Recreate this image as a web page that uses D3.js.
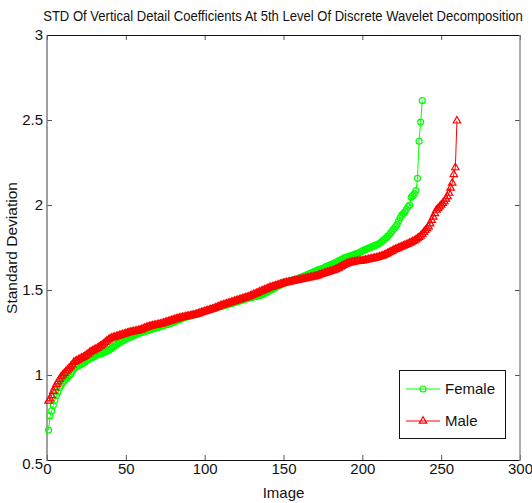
<!DOCTYPE html>
<html>
<head>
<meta charset="utf-8">
<script src="https://cdn.jsdelivr.net/npm/d3@7"></script>
<style>
  html, body { margin: 0; padding: 0; background: #fff; }
  svg { display: block; font-family: "Liberation Sans", Arial, sans-serif; }
</style>
</head>
<body>
<svg id="chart" width="532" height="503"></svg>
<script>
// Sorted per-image standard deviations of the level-5 vertical detail coefficients
const female = [
  0.676, 0.76, 0.79, 0.82, 0.85, 0.88, 0.90, 0.925, 0.94, 0.955,
  0.965, 0.975, 0.985, 0.995, 1.005, 1.02, 1.035, 1.045, 1.05, 1.055,
  1.06, 1.065, 1.07, 1.075, 1.085, 1.09, 1.095, 1.10, 1.105, 1.11,
  1.115, 1.12, 1.122, 1.125, 1.128, 1.132, 1.136, 1.14, 1.146, 1.152,
  1.158, 1.165, 1.172, 1.178, 1.185, 1.19, 1.196, 1.202, 1.208, 1.212,
  1.216, 1.22, 1.224, 1.228, 1.232, 1.236, 1.24, 1.244, 1.247, 1.25,
  1.253, 1.256, 1.259, 1.262, 1.265, 1.268, 1.271, 1.274, 1.277, 1.279,
  1.282, 1.285, 1.288, 1.291, 1.294, 1.297, 1.30, 1.303, 1.306, 1.31,
  1.314, 1.318, 1.322, 1.326, 1.33, 1.334, 1.337, 1.34, 1.343, 1.346,
  1.349, 1.352, 1.355, 1.358, 1.361, 1.364, 1.367, 1.37, 1.373, 1.376,
  1.379, 1.382, 1.385, 1.388, 1.391, 1.394, 1.397, 1.40, 1.402, 1.404,
  1.406, 1.408, 1.41, 1.412, 1.415, 1.418, 1.421, 1.424, 1.427, 1.43,
  1.432, 1.435, 1.438, 1.441, 1.444, 1.447, 1.45, 1.453, 1.455, 1.457,
  1.459, 1.461, 1.463, 1.465, 1.468, 1.471, 1.475, 1.48, 1.485, 1.49,
  1.495, 1.50, 1.505, 1.51, 1.515, 1.52, 1.525, 1.53, 1.535, 1.54,
  1.543, 1.546, 1.549, 1.552, 1.555, 1.558, 1.561, 1.564, 1.567, 1.57,
  1.574, 1.578, 1.582, 1.586, 1.59, 1.594, 1.598, 1.602, 1.606, 1.61,
  1.614, 1.618, 1.622, 1.625, 1.628, 1.632, 1.637, 1.641, 1.645, 1.649,
  1.653, 1.657, 1.661, 1.666, 1.671, 1.676, 1.681, 1.686, 1.69, 1.694,
  1.697, 1.70, 1.703, 1.706, 1.709, 1.712, 1.716, 1.72, 1.725, 1.73,
  1.734, 1.738, 1.742, 1.746, 1.75, 1.754, 1.758, 1.762, 1.766, 1.77,
  1.775, 1.782, 1.79, 1.798, 1.806, 1.815, 1.825, 1.836, 1.848, 1.86,
  1.872, 1.885, 1.905, 1.925, 1.94, 1.95, 1.96, 1.975, 1.99, 2.0,
  2.045, 2.055, 2.065, 2.085, 2.157, 2.375, 2.488, 2.614
];

const male = [
  0.847, 0.86, 0.88, 0.905, 0.925, 0.945, 0.96, 0.975, 0.99, 1.0,
  1.01, 1.02, 1.03, 1.04, 1.05, 1.06, 1.075, 1.08, 1.085, 1.09,
  1.095, 1.10, 1.105, 1.11, 1.117, 1.124, 1.132, 1.138, 1.143, 1.148,
  1.153, 1.158, 1.164, 1.17, 1.177, 1.184, 1.192, 1.2, 1.207, 1.213,
  1.217, 1.22, 1.223, 1.226, 1.229, 1.232, 1.235, 1.238, 1.241, 1.244,
  1.247, 1.25, 1.252, 1.254, 1.256, 1.258, 1.26, 1.262, 1.265, 1.268,
  1.272, 1.276, 1.28, 1.283, 1.286, 1.288, 1.29, 1.292, 1.294, 1.296,
  1.298, 1.30, 1.303, 1.306, 1.309, 1.312, 1.315, 1.318, 1.321, 1.324,
  1.327, 1.33, 1.333, 1.335, 1.337, 1.339, 1.341, 1.343, 1.345, 1.347,
  1.349, 1.351, 1.353, 1.355, 1.358, 1.361, 1.364, 1.367, 1.37, 1.373,
  1.376, 1.379, 1.382, 1.385, 1.388, 1.391, 1.395, 1.399, 1.403, 1.407,
  1.41, 1.413, 1.416, 1.419, 1.422, 1.425, 1.428, 1.431, 1.434, 1.437,
  1.44, 1.443, 1.446, 1.449, 1.452, 1.455, 1.458, 1.461, 1.465, 1.469,
  1.473, 1.477, 1.481, 1.485, 1.489, 1.493, 1.497, 1.501, 1.505, 1.509,
  1.513, 1.516, 1.519, 1.522, 1.525, 1.528, 1.531, 1.534, 1.537, 1.54,
  1.542, 1.544, 1.546, 1.548, 1.55, 1.552, 1.554, 1.556, 1.558, 1.56,
  1.562, 1.564, 1.566, 1.568, 1.57, 1.572, 1.574, 1.576, 1.578, 1.58,
  1.583, 1.586, 1.589, 1.592, 1.595, 1.598, 1.601, 1.604, 1.607, 1.61,
  1.613, 1.616, 1.62, 1.625, 1.63, 1.635, 1.64, 1.645, 1.65, 1.654,
  1.657, 1.66, 1.662, 1.664, 1.666, 1.668, 1.669, 1.67, 1.671, 1.672,
  1.674, 1.676, 1.678, 1.68, 1.682, 1.684, 1.686, 1.688, 1.69, 1.692,
  1.695, 1.698, 1.702, 1.706, 1.71, 1.715, 1.72, 1.725, 1.73, 1.735,
  1.739, 1.743, 1.747, 1.751, 1.755, 1.759, 1.763, 1.767, 1.771, 1.776,
  1.78, 1.785, 1.79, 1.796, 1.803, 1.81, 1.818, 1.828, 1.84, 1.852,
  1.862, 1.872, 1.89, 1.91, 1.93, 1.95, 1.97, 1.98, 1.99, 2.0,
  2.01, 2.02, 2.035, 2.05, 2.07, 2.1, 2.13, 2.18, 2.22, 2.495
];

const xTicks = [0, 50, 100, 150, 200, 250, 300];
const yTicks = [0.5, 1, 1.5, 2, 2.5, 3];
const seriesNames = ["Female", "Male"];
const seriesColors = ["#00ff00", "#ff0000"];

const titleText = "STD Of Vertical Detail Coefficients At 5th Level Of Discrete Wavelet  Decomposition";
const xLabel = "Image";
const yLabel = "Standard Deviation";

const svg = d3.select("#chart");
const box = { left: 47, right: 520, top: 35, bottom: 460 };
const FONT = "'Liberation Sans', Arial, sans-serif";

const x = d3.scaleLinear().domain([0, 300]).range([box.left, box.right]);
const y = d3.scaleLinear().domain([0.5, 3]).range([box.bottom, box.top]);

// Axes with inward ticks; top/right carry ticks only
const fmt = d => String(d);
const tickFont = g => g.selectAll("text")
  .attr("font-family", FONT).attr("font-size", 15).attr("fill", "#111");

const gx = svg.append("g").attr("transform", `translate(0,${box.bottom})`)
  .call(d3.axisBottom(x).tickValues(xTicks).tickFormat(fmt)
    .tickSizeInner(-5).tickSizeOuter(0).tickPadding(3));
gx.call(tickFont);
const gxTop = svg.append("g").attr("transform", `translate(0,${box.top})`)
  .call(d3.axisTop(x).tickValues(xTicks).tickFormat("")
    .tickSizeInner(-5).tickSizeOuter(0));
const gy = svg.append("g").attr("transform", `translate(${box.left},0)`)
  .call(d3.axisLeft(y).tickValues(yTicks).tickFormat(fmt)
    .tickSizeInner(-5).tickSizeOuter(0).tickPadding(4));
gy.call(tickFont);
gy.selectAll(".tick text").filter(d => d === 0.5).attr("dy", "0.55em");
const gyRight = svg.append("g").attr("transform", `translate(${box.right},0)`)
  .call(d3.axisRight(y).tickValues(yTicks).tickFormat("")
    .tickSizeInner(-5).tickSizeOuter(0));

[gx, gxTop, gy, gyRight].forEach(g => {
  g.select(".domain").remove();
  g.selectAll(".tick line").attr("stroke", "#555").attr("stroke-width", 1);
});

// Plot frame
svg.append("line").attr("x1", box.left).attr("x2", box.right)
  .attr("y1", box.bottom + 0.5).attr("y2", box.bottom + 0.5)
  .attr("stroke", "#111").attr("stroke-width", 1);
svg.append("line").attr("x1", box.left).attr("x2", box.right)
  .attr("y1", box.top + 0.5).attr("y2", box.top + 0.5)
  .attr("stroke", "#111").attr("stroke-width", 1);
svg.append("line").attr("x1", box.left).attr("x2", box.left)
  .attr("y1", box.top).attr("y2", box.bottom + 1)
  .attr("stroke", "#777").attr("stroke-width", 1.4);
svg.append("line").attr("x1", box.right).attr("x2", box.right)
  .attr("y1", box.top).attr("y2", box.bottom + 1)
  .attr("stroke", "#888").attr("stroke-width", 1.4);

// Series: line plus hollow markers, x runs 1..N
const line = d3.line().x((d, i) => x(i + 1)).y(d => y(d));
const triangle = d3.symbol().type(d3.symbolTriangle).size(24);

function drawSeries(values, color, marker) {
  const g = svg.append("g");
  g.append("path").datum(values).attr("d", line)
    .attr("fill", "none").attr("stroke", color).attr("stroke-width", 1);
  if (marker === "circle") {
    g.selectAll("circle").data(values).join("circle")
      .attr("cx", (d, i) => x(i + 1)).attr("cy", d => y(d)).attr("r", 3)
      .attr("fill", "none").attr("stroke", color).attr("stroke-width", 1.2);
  } else {
    g.selectAll("path.mk").data(values).join("path").attr("class", "mk")
      .attr("d", triangle)
      .attr("transform", (d, i) => `translate(${x(i + 1)},${y(d)})`)
      .attr("fill", "none").attr("stroke", color).attr("stroke-width", 1.2);
  }
}
drawSeries(female, seriesColors[0], "circle");
drawSeries(male, seriesColors[1], "triangle");

// Title: narrowed horizontally so it spans the figure width
const title = svg.append("text")
  .attr("text-anchor", "middle").attr("font-family", FONT)
  .attr("font-size", 14).attr("fill", "#111")
  .text(titleText);
const titleW = title.node().getComputedTextLength();
const titleScale = Math.min(1, 480 / titleW);
title.attr("transform", `translate(283,21) scale(${titleScale},1)`);

svg.append("text").attr("x", (box.left + box.right) / 2).attr("y", 498)
  .attr("text-anchor", "middle").attr("font-family", FONT)
  .attr("font-size", 15).attr("fill", "#111")
  .text(xLabel);
svg.append("text").attr("transform", "translate(17,248) rotate(-90)")
  .attr("text-anchor", "middle").attr("font-family", FONT)
  .attr("font-size", 15.5).attr("fill", "#111")
  .text(yLabel);

// Legend
const lg = svg.append("g");
lg.append("rect").attr("x", 399.5).attr("y", 370.5).attr("width", 106).attr("height", 68)
  .attr("fill", "#fff").attr("stroke", "#111").attr("stroke-width", 1);
const legendRows = [389, 421];
seriesNames.forEach((name, k) => {
  const ly = legendRows[k];
  lg.append("line").attr("x1", 406).attr("x2", 440).attr("y1", ly).attr("y2", ly)
    .attr("stroke", seriesColors[k]).attr("stroke-width", 1);
  if (k === 0) {
    lg.append("circle").attr("cx", 423).attr("cy", ly).attr("r", 3)
      .attr("fill", "none").attr("stroke", seriesColors[k]).attr("stroke-width", 1.2);
  } else {
    lg.append("path").attr("d", triangle).attr("transform", `translate(423,${ly})`)
      .attr("fill", "none").attr("stroke", seriesColors[k]).attr("stroke-width", 1.2);
  }
  lg.append("text").attr("x", 445).attr("y", ly + 5).attr("font-family", FONT)
    .attr("font-size", 15).attr("fill", "#111").text(name);
});
</script>
</body>
</html>
